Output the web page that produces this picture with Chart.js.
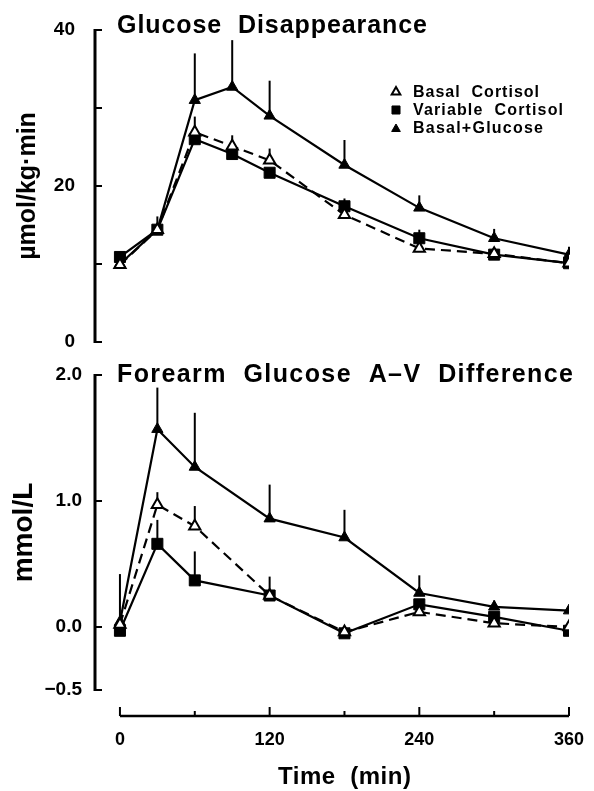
<!DOCTYPE html>
<html>
<head>
<meta charset="utf-8">
<script src="https://cdn.jsdelivr.net/npm/chart.js@4.4.1/dist/chart.umd.min.js"></script>
<style>
  html, body { margin: 0; padding: 0; background: #fff; }
  #wrap { position: relative; width: 594px; height: 791px; }
  canvas { position: absolute; left: 0; }
  #gdChart { top: 0; }
  #avChart { top: 360px; }
</style>
</head>
<body>
<div id="wrap">
  <canvas id="gdChart" width="594" height="360"></canvas>
  <canvas id="avChart" width="594" height="431"></canvas>
</div>
<script>
// --- data ---
const seriesLabels = ['Basal  Cortisol', 'Variable  Cortisol', 'Basal+Glucose'];

// glucose disappearance (µmol/kg·min)
const gdTimes = [0, 30, 60, 90, 120, 180, 240, 300, 360];
const gdBasal = [9.9, 14.4, 26.9, 25.1, 23.3, 16.3, 12.0, 11.3, 10.1];
const gdBasalErr = [0, 0, 2.0, 1.4, 1.5, 0, 0.4, 0, 0];
const gdVariable = [10.9, 14.4, 26.0, 24.1, 21.7, 17.4, 13.3, 11.2, 10.1];
const gdVariableErr = [0, 0, 0, 0, 0, 1.0, 1.1, 0.4, 0];
const gdGlucose = [10.0, 14.4, 31.0, 32.7, 29.0, 22.7, 17.2, 13.3, 11.2];
const gdGlucoseErr = [0, 1.7, 6.0, 6.0, 4.5, 3.2, 1.6, 1.2, 1.0];
const gdTicks = [0, 10, 20, 30, 40];
const gdLabelled = [0, 20, 40];

// forearm A-V difference (mmol/L)
const avTimes = [0, 30, 60, 120, 180, 240, 300, 360];
const avBasal = [0.02, 0.97, 0.80, 0.25, -0.04, 0.12, 0.03, 0.00];
const avBasalErr = [0, 0.10, 0.16, 0, 0, 0, 0, 0];
const avVariable = [-0.03, 0.66, 0.37, 0.25, -0.05, 0.18, 0.08, -0.03];
const avVariableErr = [0, 0.19, 0.23, 0.15, 0, 0, 0, 0];
const avGlucose = [0.04, 1.57, 1.27, 0.86, 0.71, 0.27, 0.16, 0.13];
const avGlucoseErr = [0.38, 0.33, 0.43, 0.27, 0.22, 0.14, 0.05, 0];
const avTicks = [-0.5, 0, 1, 2];

// time axis
const timeTicks = [0, 60, 120, 180, 240, 300, 360];
const timeLabelled = [0, 120, 240, 360];

const FONT = '"Liberation Sans", Arial, Helvetica, sans-serif';
Chart.defaults.font.family = FONT;
Chart.defaults.color = '#000';

// marker styles per series (basal dashed/open, variable square, glucose filled)
const styles = [
  { borderDash: [10, 6], pointStyle: 'triangle', pointRadius: 6.5, pointBackgroundColor: '#fff', pointBorderColor: '#000', pointBorderWidth: 2 },
  { pointStyle: 'rect', pointRadius: 7.8, pointBackgroundColor: '#000', pointBorderColor: '#000', pointBorderWidth: 1 },
  { pointStyle: 'triangle', pointRadius: 6.5, pointBackgroundColor: '#000', pointBorderColor: '#000', pointBorderWidth: 1 }
];

function series(idx, times, values, errs) {
  return Object.assign({
    label: seriesLabels[idx],
    data: times.map((t, i) => ({ x: t, y: values[i] })),
    errors: errs,
    borderColor: '#000',
    borderWidth: 2.2,
    tension: 0,
    fill: false
  }, styles[idx]);
}

// text stretched to a given width (the figure uses wide letter spacing)
function fitText(ctx, text, x, y, width) {
  ctx.letterSpacing = '0px';
  const w = ctx.measureText(text).width;
  ctx.letterSpacing = ((width - w) / (text.length - 1)) + 'px';
  ctx.fillText(text, x, y);
  ctx.letterSpacing = '0px';
}

// scales keep their own edge padding out of the layout
function noEdgePadding(s) {
  s.paddingLeft = 0;
  s.paddingRight = 0;
  s.paddingTop = 0;
  s.paddingBottom = 0;
}

// axes, error bars, panel title, legend
const framePlugin = {
  id: 'frame',
  beforeDatasetsDraw(chart) {
    const { ctx, scales: { x, y } } = chart;
    ctx.save();
    ctx.strokeStyle = '#000';
    ctx.lineWidth = 2;
    chart.data.datasets.forEach(ds => {
      (ds.errors || []).forEach((e, i) => {
        if (!e) return;
        const p = ds.data[i];
        const px = x.getPixelForValue(p.x);
        ctx.beginPath();
        ctx.moveTo(px, y.getPixelForValue(p.y));
        ctx.lineTo(px, y.getPixelForValue(p.y + e));
        ctx.stroke();
      });
    });
    ctx.restore();
  },
  afterDraw(chart, args, opts) {
    const { ctx, chartArea, scales: { x, y } } = chart;
    ctx.save();
    ctx.strokeStyle = '#000';
    ctx.fillStyle = '#000';

    // y axis with inward ticks
    const ax = chartArea.left;
    ctx.lineWidth = 3;
    ctx.beginPath();
    ctx.moveTo(ax, y.getPixelForValue(y.min) + 1);
    ctx.lineTo(ax, y.getPixelForValue(y.max) - 1);
    ctx.stroke();
    ctx.lineWidth = 2;
    y.ticks.forEach(t => {
      const py = y.getPixelForValue(t.value);
      ctx.beginPath();
      ctx.moveTo(ax, py);
      ctx.lineTo(ax + 7, py);
      ctx.stroke();
    });

    // separate time axis below the lower panel
    if (opts.timeAxis) {
      const y0 = chartArea.bottom + 26;
      const x0 = x.getPixelForValue(timeTicks[0]);
      const x1 = x.getPixelForValue(timeTicks[timeTicks.length - 1]);
      ctx.lineWidth = 2.5;
      ctx.beginPath();
      ctx.moveTo(x0, y0);
      ctx.lineTo(x1, y0);
      ctx.stroke();
      ctx.lineWidth = 2;
      x.ticks.forEach(t => {
        const px = x.getPixelForValue(t.value);
        const len = timeLabelled.includes(t.value) ? 9 : 5;
        ctx.beginPath();
        ctx.moveTo(px, y0);
        ctx.lineTo(px, y0 - len);
        ctx.stroke();
      });
      ctx.font = 'bold 24px ' + FONT;
      ctx.textAlign = 'left';
      ctx.textBaseline = 'alphabetic';
      const tw = 133;
      fitText(ctx, 'Time  (min)', (x0 + x1) / 2 - tw / 2, chartArea.bottom + 94, tw);
    }

    // panel title
    if (opts.title) {
      ctx.font = 'bold 25px ' + FONT;
      ctx.textAlign = 'left';
      ctx.textBaseline = 'alphabetic';
      fitText(ctx, opts.title.text, opts.title.left, opts.title.baseline, opts.title.width);
    }

    // legend inside the upper panel
    if (opts.legend) {
      const lg = opts.legend;
      chart.data.datasets.forEach((ds, i) => {
        ctx.fillStyle = ds.pointBackgroundColor;
        ctx.strokeStyle = ds.pointBorderColor;
        ctx.lineWidth = ds.pointBorderWidth;
        Chart.helpers.drawPoint(ctx, {
          pointStyle: ds.pointStyle,
          radius: lg.radius[i],
          rotation: 0,
          borderWidth: ds.pointBorderWidth
        }, lg.markerX, lg.markerY[i]);
        ctx.fillStyle = '#000';
        ctx.font = 'bold 16px ' + FONT;
        ctx.textAlign = 'left';
        ctx.textBaseline = 'alphabetic';
        fitText(ctx, ds.label, lg.textX, lg.baseline[i], lg.widths[i]);
      });
    }
    ctx.restore();
  }
};

function yScale(min, max, ticksList, fmt, pad, title, titleSize, titlePad) {
  return {
    type: 'linear',
    min: min,
    max: max,
    afterBuildTicks: s => { s.ticks = ticksList.map(v => ({ value: v })); },
    afterFit: s => { s.width = 95; noEdgePadding(s); },
    grid: { display: false, drawTicks: false },
    border: { display: false },
    ticks: {
      padding: pad,
      autoSkip: false,
      color: '#000',
      font: { size: 19, weight: 'bold' },
      callback: fmt
    },
    title: {
      display: true,
      text: title,
      color: '#000',
      font: { size: titleSize, weight: 'bold' },
      padding: { top: titlePad, bottom: 0 }
    }
  };
}

const common = {
  responsive: false,
  animation: false,
  devicePixelRatio: 1,
  events: [],
  plugins: { legend: { display: false }, tooltip: { enabled: false } }
};

new Chart(document.getElementById('gdChart'), {
  type: 'line',
  data: {
    datasets: [
      series(0, gdTimes, gdBasal, gdBasalErr),
      series(1, gdTimes, gdVariable, gdVariableErr),
      series(2, gdTimes, gdGlucose, gdGlucoseErr)
    ]
  },
  options: Object.assign({}, common, {
    layout: { padding: { top: 30, bottom: 18, left: 0, right: 25 } },
    scales: {
      x: { type: 'linear', min: -20, max: 360, display: false },
      y: yScale(0, 40, gdTicks, v => gdLabelled.includes(v) ? String(v) : '', 20,
        'µmol/kg·min', 25, 13)
    },
    plugins: Object.assign({}, common.plugins, {
      frame: {
        title: { text: 'Glucose  Disappearance', left: 117, baseline: 33, width: 310 },
        legend: {
          markerX: 396,
          markerY: [92, 110, 129],
          radius: [5, 5.7, 5],
          textX: 413,
          baseline: [97, 115, 133],
          widths: [126, 150, 130]
        }
      }
    })
  }),
  plugins: [framePlugin]
});

new Chart(document.getElementById('avChart'), {
  type: 'line',
  data: {
    datasets: [
      series(0, avTimes, avBasal, avBasalErr),
      series(1, avTimes, avVariable, avVariableErr),
      series(2, avTimes, avGlucose, avGlucoseErr)
    ]
  },
  options: Object.assign({}, common, {
    layout: { padding: { top: 15, bottom: 0, left: 0, right: 25 } },
    scales: {
      x: {
        type: 'linear',
        min: -20,
        max: 360,
        afterBuildTicks: s => { s.ticks = timeTicks.map(v => ({ value: v })); },
        afterFit: s => { s.height = 101; noEdgePadding(s); },
        grid: { display: false, drawTicks: false },
        border: { display: false },
        ticks: {
          padding: 39,
          autoSkip: false,
          maxRotation: 0,
          color: '#000',
          font: { size: 18, weight: 'bold' },
          callback: v => timeLabelled.includes(v) ? String(v) : ''
        }
      },
      y: yScale(-0.5, 2, avTicks, v => v.toFixed(1).replace('-', '\u2212'), 13,
        'mmol/L', 28, 7)
    },
    plugins: Object.assign({}, common.plugins, {
      frame: {
        timeAxis: true,
        title: { text: 'Forearm  Glucose  A\u2013V  Difference', left: 117, baseline: 22, width: 456 }
      }
    })
  }),
  plugins: [framePlugin]
});
</script>
</body>
</html>
